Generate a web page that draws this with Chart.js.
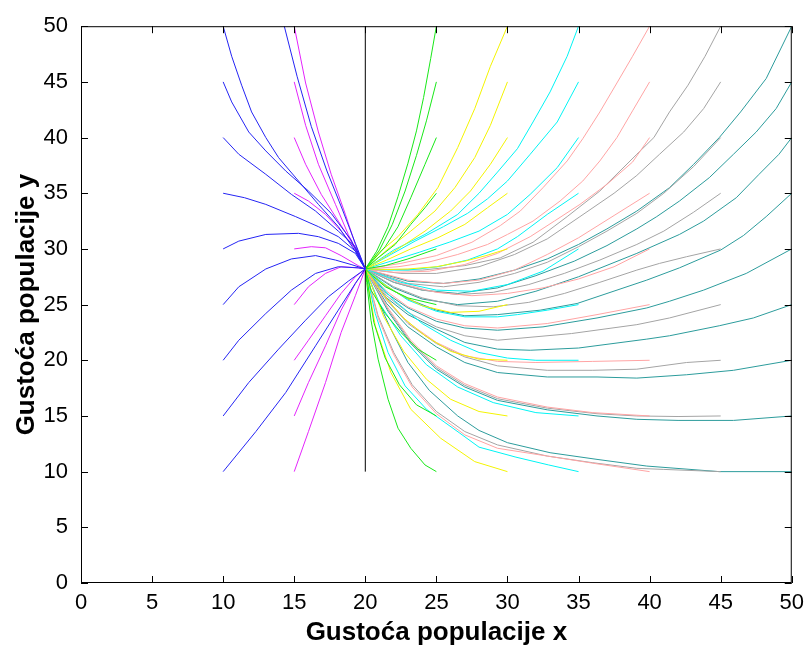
<!DOCTYPE html>
<html>
<head>
<meta charset="utf-8">
<script src="https://cdn.jsdelivr.net/npm/chart.js@4.4.1/dist/chart.umd.min.js"></script>
<style>
  html, body { margin: 0; padding: 0; background: #fff; }
</style>
</head>
<body>
<canvas id="phaseChart" width="811" height="649"></canvas>
<script>
// tick values
const xTicks = [0, 5, 10, 15, 20, 25, 30, 35, 40, 45, 50];
const yTicks = [0, 5, 10, 15, 20, 25, 30, 35, 40, 45, 50];

// trajectories, grouped by starting x ([x, y] pairs)
const pathsFrom10 = [
  [[10,50],[10.6,47.3],[11.3,44.7],[12,42.3],[13,40],[13.9,38.2],[15.3,36.1],[16.7,34],[18.1,32],[19.3,29.8],[20,28.2]],
  [[10,45],[10.6,43.2],[11.8,40.5],[13,38.8],[14.4,37],[16,35.2],[17.6,33.2],[19,30.8],[20,28.2]],
  [[10,40],[11.1,38.5],[13,36.7],[14.8,34.9],[16.5,33.4],[18.1,31.6],[19.3,30.2],[20,28.2]],
  [[10,35],[11.5,34.6],[13,34],[15.1,32.9],[16.7,32],[18.1,31.1],[19.3,29.8],[20,28.2]],
  [[10,30],[11.1,30.7],[13,31.3],[15.3,31.4],[16.7,31.1],[18.1,30.5],[19.3,29.6],[20,28.2]],
  [[10,25],[11.1,26.6],[13,28.2],[14.8,29.1],[16.5,29.4],[17.9,29],[19,28.6],[20,28.2]],
  [[10,20],[11.1,21.8],[13,24.2],[14.8,26.3],[16.5,27.8],[18.1,28.4],[19.5,28.3],[20,28.2]],
  [[10,15],[11.8,18],[13.9,21],[15.8,23.6],[17.4,25.7],[18.8,27.1],[20,28.2]],
  [[10,10],[12.3,13.6],[14.4,17.1],[16.5,21.3],[18.1,24.5],[19.3,26.9],[20,28.2]],
  [[14.3,50],[15.2,45.5],[16.2,41],[17.3,37],[18.4,33.5],[19.3,30.5],[20,28.2]]
];
const pathsFrom15 = [
  [[15,50],[15.8,44.9],[16.7,40.5],[17.6,36.7],[18.6,33.1],[19.3,30.4],[20,28.2]],
  [[15,45],[15.8,41.1],[16.7,37.6],[17.9,34],[18.8,31.3],[19.5,29.5],[20,28.2]],
  [[15,40],[15.8,37.6],[16.9,34.9],[18.1,32.5],[19,30.7],[20,28.2]],
  [[15,35],[16,34.3],[17.2,33.1],[18.3,31.6],[19.3,30],[20,28.2]],
  [[15,30],[16.2,30.2],[17.2,30.1],[18.3,29.4],[19.5,28.5],[20,28.2]],
  [[15,25],[16,26.6],[17.2,27.8],[18.3,28.4],[19.5,28.3],[20,28.2]],
  [[15,20],[16,21.8],[17.2,24],[18.3,26],[19.3,27.5],[20,28.2]],
  [[15,15],[16,18],[17.2,21.3],[18.3,24.5],[19.3,26.9],[20,28.2]],
  [[15,10],[16,13.6],[17.2,18],[18.3,22.5],[19.3,25.8],[20,28.2]]
];
const pathsFrom20 = [
  [[20,10],[20,50]]
];
const pathsFrom25 = [
  [[25,50],[24.6,47.1],[24.1,43.6],[23.6,40.6],[23,37.7],[22.3,34.7],[21.6,32],[20.8,29.8],[20,28.2]],
  [[25,45],[24.3,41.5],[23.6,38.4],[22.8,35.2],[21.9,32.2],[21,29.9],[20,28.2]],
  [[25,40],[24.2,37.6],[23.2,34.6],[22.3,32],[21.4,30.2],[20,28.2]],
  [[25,35],[24.2,33.7],[23.2,32.2],[22.1,30.4],[20.9,29.2],[20,28.2]],
  [[25,30],[23,29.1],[21.4,28.5],[20,28.2]],
  [[25,25],[23,25.6],[21.4,26.6],[20.5,27.6],[20,28.2]],
  [[25,20],[23.7,21],[22.5,22.5],[21.4,24.2],[20.4,26.3],[20,28.2]],
  [[25,15],[23.6,16],[22.4,17.8],[21.4,20.2],[20.6,23.4],[20,28.2]],
  [[25,10],[24.2,10.6],[23.2,12.1],[22.3,13.9],[21.6,16.5],[20.9,20.1],[20.4,23.6],[20.1,27],[20,28.2]]
];
const pathsFrom30 = [
  [[30,50],[28.8,46.4],[27.7,42.6],[26.5,39.1],[25.1,35.5],[23.7,33.1],[22.3,31.1],[20.9,29.6],[20,28.2]],
  [[30,45],[28.8,41.1],[27.7,38.2],[26.3,35.5],[24.9,33.4],[23.2,31.6],[21.6,30],[20,28.2]],
  [[30,40],[28.8,37.6],[27.4,35.2],[26,33.4],[24.2,31.6],[22.3,30],[20,28.2]],
  [[30,35],[28.6,33.7],[27,32.2],[25.1,31],[23.2,30],[21.5,29],[20,28.2]],
  [[30,30],[28.5,29.4],[27,28.9],[25,28.4],[23,28.2],[21.5,28.15],[20,28.2]],
  [[30,25],[28,24.4],[26,24.3],[24,24.9],[22.3,26],[21,27.1],[20,28.2]],
  [[30,20],[28,20.1],[26,20.8],[24.2,22.2],[22.6,23.9],[21.2,26],[20,28.2]],
  [[30,15],[28,15.4],[26,16.5],[24.3,18.3],[22.7,20.8],[21.3,23.9],[20,28.2]],
  [[30,10],[27.7,10.9],[25.3,13],[23.2,15.6],[21.8,18.9],[20.7,23.1],[20,28.2]]
];
const pathsFrom35 = [
  [[35,50],[34.2,47.3],[33,44.1],[31.8,41.4],[30.7,39],[29.3,36.9],[28,35],[26.5,33.1],[24.2,31.3],[22,29.9],[20,28.2]],
  [[35,45],[33.5,41.4],[31.6,38.5],[30,36.1],[28.6,34.5],[27.2,33.2],[25.5,32],[23.5,30.7],[21.8,29.5],[20,28.2]],
  [[35,40],[33.5,37.3],[31.6,34.9],[30,33.1],[28,31.6],[25.9,30.6],[23.8,29.7],[21.8,28.9],[20,28.2]],
  [[35,35],[32.8,33.1],[30.7,31.1],[29.3,30],[27.2,29],[25.1,28.4],[23,28.1],[21.5,28.1],[20,28.2]],
  [[35,30],[32.5,28],[30,26.8],[27.5,26.2],[25,26.3],[22.5,27],[20,28.2]],
  [[35,25],[32.8,24.5],[30.7,24.1],[29.3,23.9],[27,23.9],[25,24.4],[23,25.4],[21.5,26.7],[20,28.2]],
  [[35,20],[32,20],[30,20.2],[28,20.7],[26,21.8],[24,23.3],[22,25.4],[20,28.2]],
  [[35,15],[32,15.3],[29,16.2],[26.5,17.6],[24.3,19.6],[22.5,22.2],[21,25.1],[20,28.2]],
  [[35,10],[32.9,10.6],[30.6,11.3],[28,12.2],[26.6,13.5],[24.3,15.6],[22.8,17.7],[21.6,20.7],[20.7,24.2],[20,28.2]]
];
const pathsFrom40 = [
  [[40,50],[38.8,47.3],[37.7,44.9],[36.5,42.3],[35.3,39.9],[34.2,37.9],[32.5,35.5],[30.9,33.4],[29.5,32.1],[27.5,30.6],[25,29.4],[22.5,28.7],[20,28.2]],
  [[40,45],[38.8,42.4],[37.7,40],[36.5,37.9],[35.3,36.1],[33.7,34.3],[31.8,32.5],[30,31.3],[28.6,30.4],[26.5,29.5],[24.4,28.8],[22.3,28.4],[20,28.2]],
  [[40,40],[38.8,37.8],[37,35.8],[35.1,34],[33.3,32.5],[31.6,31.1],[29.3,29.6],[27,28.6],[24.5,28],[22,27.9],[20,28.2]],
  [[40,35],[37.5,33],[35,31],[32.8,29.5],[30.5,28.1],[28,27.2],[25.5,26.9],[23,27.2],[20,28.2]],
  [[40,30],[37.5,28.4],[35,27.3],[32.5,26.5],[30,26],[27.5,25.8],[25,26.1],[22.5,26.9],[20,28.2]],
  [[40,25],[36.3,24.1],[32.8,23.3],[29.3,22.9],[27,23.1],[25,23.7],[23,24.8],[21.5,26.2],[20,28.2]],
  [[40,20],[36,19.9],[32,19.8],[29.3,19.9],[27,20.4],[25,21.6],[23,23.4],[21.5,25.5],[20,28.2]],
  [[40,15],[36,15.3],[32.8,15.8],[29.3,16.7],[27,17.9],[25,19.5],[23.2,21.8],[21.6,24.7],[20,28.2]],
  [[40,10],[36.3,10.7],[32.8,11.4],[29.3,12.1],[27,13.3],[25,15.2],[23.3,17.6],[22,20.5],[20.9,23.8],[20,28.2]]
];
const pathsFrom45 = [
  [[45,50],[43.9,47.3],[42.7,44.7],[41.4,42.3],[40.3,40],[39.1,38.5],[36.5,35.2],[34.2,32.9],[31.8,30.6],[29.5,29.2],[27,28.5],[24,28.1],[20,28.2]],
  [[45,45],[43.8,42.6],[42.4,40.5],[40.7,38.5],[39.1,36.6],[37.5,35],[35.1,32.9],[32.8,30.9],[30.5,29.5],[28,28.4],[25,27.8],[22.5,27.8],[20,28.2]],
  [[45,40],[43.1,37.4],[41,35],[39.1,33.2],[37,31.6],[35,30.2],[32.8,28.8],[30.5,27.8],[28,27],[25.5,26.6],[23,26.9],[20,28.2]],
  [[45,35],[43.1,33.3],[41,31.6],[39.1,30.4],[36.5,29],[34,27.8],[31.5,26.8],[29,26.1],[26.5,25.9],[24,26.3],[22,27],[20,28.2]],
  [[45,30],[42.6,29.3],[40.7,28.7],[39.1,28.1],[36.5,27],[34,26],[31.5,25.2],[29,24.8],[26.5,24.9],[24,25.6],[22,26.6],[20,28.2]],
  [[45,25],[41.4,23.8],[39.1,23.2],[34.5,22.4],[29.3,21.8],[27,22.2],[25,23],[23,24.3],[21.5,25.8],[20,28.2]],
  [[45,20],[42.6,19.8],[39.1,19.2],[36,19.1],[32.8,19.1],[29.3,19.5],[27,20.3],[25,21.5],[23,23.3],[21.5,25.4],[20,28.2]],
  [[45,15],[42,14.95],[39.1,15],[36.3,15.2],[32.8,15.7],[29.3,16.55],[27,17.75],[25,19.35],[23.2,21.65],[21.6,24.55],[20,28.2]],
  [[45,10],[41,10.2],[39.1,10.3],[36,10.8],[32.8,11.4],[29.3,12.4],[27,13.6],[25,15.4],[23.3,17.8],[22,20.7],[20.9,24],[20,28.2]]
];
const pathsFrom50 = [
  [[50,50],[48.2,45.3],[46.4,42.3],[44.9,40],[43.1,37.6],[41.4,35.5],[39.1,33.4],[37,31.8],[35,30.4],[32.8,29.1],[30.5,28.1],[28,27.3],[25.5,26.9],[23,27.1],[20,28.2]],
  [[50,45],[48.9,42.6],[47.5,40.5],[45.9,38.5],[44.2,36.4],[42.1,34.3],[40.5,32.9],[39.1,31.8],[37,30.3],[34.7,28.9],[32,27.6],[29.3,26.5],[26.5,26],[24,26.3],[22,27],[20,28.2]],
  [[50,40],[49.1,38.5],[47.7,36.7],[46.1,34.6],[43.8,32.5],[42.1,31.3],[39.1,29.6],[35,27.5],[32,26.2],[29.3,25.3],[26.5,25],[24,25.5],[22,26.5],[20,28.2]],
  [[50,35],[48.2,32.9],[46.6,31.2],[45,29.9],[42.1,28.3],[39.8,27.2],[34.9,25.1],[32.3,24.5],[29.3,24.1],[27,24],[25,24.5],[23,25.5],[21.5,26.6],[20,28.2]],
  [[50,30],[46.8,27.8],[43.8,26.3],[41.4,25.3],[39.8,24.7],[36.3,23.8],[32.5,23],[29.3,22.7],[27,22.9],[25,23.5],[23,24.7],[21.5,26],[20,28.2]],
  [[50,25],[47.3,23.8],[44.9,23.1],[41.4,22.2],[39.8,21.9],[35,21.1],[31.6,20.9],[29.3,21],[27,21.6],[25,22.8],[23,24.1],[21.5,25.6],[20,28.2]],
  [[50,20],[45.9,19.1],[42.6,18.7],[39.1,18.4],[36.3,18.5],[32.8,18.5],[29.3,18.9],[27,19.8],[25,21.2],[23,23],[21.5,25.1],[20,28.2]],
  [[50,15],[45.9,14.6],[42,14.6],[39.1,14.7],[36.3,15],[32.8,15.55],[29.3,16.4],[27,17.6],[25,19.2],[23.2,21.5],[21.6,24.4],[20,28.2]],
  [[50,10],[44.9,10],[39.8,10.5],[36.3,11.1],[33,11.7],[30,12.6],[28,13.7],[26.5,15],[24.5,17.3],[23,19.8],[21.8,22.8],[20.8,25.6],[20,28.2]]
];

const groups = [pathsFrom10, pathsFrom15, pathsFrom20, pathsFrom25, pathsFrom30,
                pathsFrom35, pathsFrom40, pathsFrom45, pathsFrom50];
// one line colour per starting column
const groupColors = ['#2424f4', '#e424fc', '#000000', '#18e818', '#f4f400',
                     '#00f4f4', '#ffa4a4', '#a4a4a4', '#2c9c9c'];

const datasets = [];
groups.forEach((paths, g) => {
  paths.forEach(path => {
    datasets.push({
      data: path.map(p => ({ x: p[0], y: p[1] })),
      borderColor: groupColors[g],
      borderWidth: 1,
      pointRadius: 0,
      showLine: true,
      tension: 0,
      fill: false
    });
  });
});

const tickFont = { family: "'Liberation Sans', Arial, sans-serif", size: 22 };
const titleFont = { family: "'Liberation Sans', Arial, sans-serif", size: 26, weight: 'bold' };

// box round the plot and inward ticks on all four sides, like the original
const boxAndTicks = {
  id: 'boxAndTicks',
  afterDatasetsDraw(chart) {
    const { ctx, chartArea: a, scales: { x, y } } = chart;
    const len = 7;
    ctx.save();
    ctx.strokeStyle = '#000';
    ctx.lineWidth = 1;
    ctx.strokeRect(a.left + 0.5, a.top + 0.5, a.right - a.left - 1, a.bottom - a.top - 1);
    ctx.beginPath();
    xTicks.forEach(v => {
      const px = Math.round(x.getPixelForValue(v)) + 0.5;
      ctx.moveTo(px, a.bottom); ctx.lineTo(px, a.bottom - len);
      ctx.moveTo(px, a.top); ctx.lineTo(px, a.top + len);
    });
    yTicks.forEach(v => {
      const py = Math.round(y.getPixelForValue(v)) + 0.5;
      ctx.moveTo(a.left, py); ctx.lineTo(a.left + len, py);
      ctx.moveTo(a.right, py); ctx.lineTo(a.right - len, py);
    });
    ctx.stroke();
    ctx.restore();
  }
};

new Chart(document.getElementById('phaseChart').getContext('2d'), {
  type: 'scatter',
  data: { datasets: datasets },
  options: {
    responsive: false,
    animation: false,
    devicePixelRatio: 1,
    layout: { padding: { top: 20, right: 15, left: 0, bottom: 0 } },
    plugins: {
      legend: { display: false },
      tooltip: { enabled: false }
    },
    scales: {
      x: {
        type: 'linear',
        min: 0,
        max: 50,
        afterFit: s => { s.height = 66; },
        afterBuildTicks: s => { s.ticks = xTicks.map(v => ({ value: v })); },
        ticks: { font: tickFont, color: '#000', padding: 7, maxRotation: 0 },
        grid: { display: false, drawTicks: false },
        border: { display: false },
        title: { display: true, text: 'Gustoća populacije x', font: titleFont, color: '#000', padding: { top: 0, bottom: 1 } }
      },
      y: {
        type: 'linear',
        min: 0,
        max: 50,
        afterFit: s => { s.width = 81; },
        afterBuildTicks: s => { s.ticks = yTicks.map(v => ({ value: v })); },
        ticks: { font: tickFont, color: '#000', padding: 13 },
        grid: { display: false, drawTicks: false },
        border: { display: false },
        title: { display: true, text: 'Gustoća populacije y', font: titleFont, color: '#000', padding: { top: 11, bottom: 0 } }
      }
    }
  },
  plugins: [boxAndTicks]
});
</script>
</body>
</html>
